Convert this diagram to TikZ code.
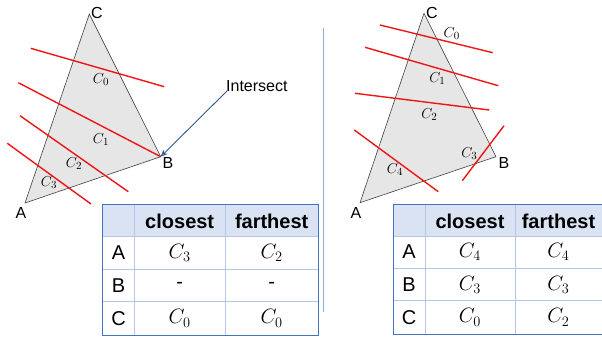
\documentclass[tikz,border=0pt]{standalone}
\usepackage{fontspec}
\setmainfont{Liberation Sans}
\usetikzlibrary{arrows.meta}
\definecolor{tri}{RGB}{230,230,230}
\definecolor{cut}{RGB}{240,20,20}
\definecolor{hdr}{RGB}{218,227,243}
\definecolor{outer}{RGB}{68,114,196}
\definecolor{inner}{RGB}{180,199,231}
\definecolor{arr}{RGB}{47,85,151}
\definecolor{divc}{RGB}{143,170,220}
\tikzset{
  trishape/.style={fill=tri,draw=black!75,line width=0.6pt},
  cutline/.style={draw=cut,line width=1.4pt},
  vlabel/.style={font=\fontsize{16}{18}\selectfont,inner sep=0pt},
  clabel/.style={font=\fontsize{15}{17}\selectfont,inner sep=0pt},
  cell/.style={font=\fontsize{20}{22}\selectfont,inner sep=0pt},
  hcell/.style={font=\fontsize{20}{22}\selectfont\bfseries,inner sep=0pt},
}
\begin{document}
\begin{tikzpicture}[x=1pt,y=-1pt]
\useasboundingbox (0,0) rectangle (602,339);
% ---------- left triangle ----------
\coordinate (lA) at (25,203);
\coordinate (lB) at (160.7,156.7);
\coordinate (lC) at (89.3,14);
\path[trishape] (lA) -- (lB) -- (lC) -- cycle;
\node[vlabel,anchor=west] (tlC) at (91,13) {C};
\node[vlabel] (tlB) at (168,163) {B};
\node[vlabel] (tlA) at (21,213) {A};
\coordinate (l0a) at (30.7,48.3);  \coordinate (l0b) at (164.3,86.7);
\coordinate (l1a) at (18.3,82.7);
\coordinate (l2a) at (20,115.7);   \coordinate (l2b) at (128.3,191.7);
\coordinate (l3a) at (7.3,143.3);  \coordinate (l3b) at (91,204);
\draw[cutline] (l0a) -- (l0b);
\draw[cutline] (l1a) -- (lB);
\draw[cutline] (l2a) -- (l2b);
\draw[cutline] (l3a) -- (l3b);
\node[clabel] (lc0) at (101,80) {$C_0$};
\node[clabel] (lc1) at (101,140) {$C_1$};
\node[clabel] (lc2) at (74,164) {$C_2$};
\node[clabel] (lc3) at (49,183) {$C_3$};
\node[vlabel,anchor=south west] (inter) at (226,92) {Intersect};
\draw[arr,line width=0.9pt,-{Stealth[length=7pt,width=6pt,open]}] (227.3,90.7) -- (lB);
% ---------- divider ----------
\coordinate (d1) at (323.3,28);
\coordinate (d2) at (323.3,311.7);
\draw[divc,line width=1pt] (d1) -- (d2);
% ---------- right triangle ----------
\coordinate (rA) at (360,202.7);
\coordinate (rB) at (496,156.7);
\coordinate (rC) at (424,13.3);
\path[trishape] (rA) -- (rB) -- (rC) -- cycle;
\node[vlabel,anchor=west] (trC) at (426,12.7) {C};
\node[vlabel] (trB) at (504,163) {B};
\node[vlabel] (trA) at (356,213) {A};
\coordinate (r0a) at (380,25);    \coordinate (r0b) at (492.7,52.7);
\coordinate (r1a) at (365,47.3);  \coordinate (r1b) at (498.3,85.7);
\coordinate (r2a) at (355,93.3);  \coordinate (r2b) at (489.3,110);
\coordinate (r4a) at (354.3,130); \coordinate (r4b) at (438.3,191.7);
\coordinate (r3a) at (504,125.7); \coordinate (r3b) at (462.3,180.7);
\draw[cutline] (r0a) -- (r0b);
\draw[cutline] (r1a) -- (r1b);
\draw[cutline] (r2a) -- (r2b);
\draw[cutline] (r4a) -- (r4b);
\draw[cutline] (r3a) -- (r3b);
\node[clabel] (rc0) at (451.7,33.3) {$C_0$};
\node[clabel] (rc1) at (437.3,78.3) {$C_1$};
\node[clabel] (rc2) at (429.3,115) {$C_2$};
\node[clabel] (rc3) at (469.3,153.3) {$C_3$};
\node[clabel] (rc4) at (395,170) {$C_4$};
% ---------- left table ----------
\fill[hdr] (102.7,205) rectangle (318.3,236.7);
\draw[inner,line width=0.8pt] (102.7,236.7) -- (318.3,236.7)
  (102.7,269.3) -- (318.3,269.3) (102.7,301.7) -- (318.3,301.7)
  (134.3,205) -- (134.3,335) (225,205) -- (225,335);
\draw[outer,line width=1pt] (102.7,205) rectangle (318.3,335);
\node[hcell] (lh1) at (179.7,221) {closest};
\node[hcell] (lh2) at (271.7,221) {farthest};
\node[cell] (lrA) at (118.5,253) {A};
\node[cell] (lrB) at (118.5,285.5) {B};
\node[cell] (lrC) at (118.5,318.4) {C};
\node[cell] (lA1) at (179.7,253) {$C_3$};
\node[cell] (lA2) at (271.7,253) {$C_2$};
\node[cell] (lB1) at (179.7,285.5) {-};
\node[cell] (lB2) at (271.7,285.5) {-};
\node[cell] (lC1) at (179.7,318.4) {$C_0$};
\node[cell] (lC2) at (271.7,318.4) {$C_0$};
% ---------- right table ----------
\fill[hdr] (393.3,205) rectangle (601.5,236);
\draw[inner,line width=0.8pt] (393.3,236) -- (601.5,236)
  (393.3,268.3) -- (601.5,268.3) (393.3,300.7) -- (601.5,300.7)
  (425,205) -- (425,334) (515,205) -- (515,334);
\draw[outer,line width=1pt] (393.3,205) -- (601.5,205) (393.3,205) -- (393.3,334) -- (601.5,334);
\node[hcell] (rh1) at (470,221) {closest};
\node[hcell] (rh2) at (558.5,221) {farthest};
\node[cell] (rrA) at (409,252) {A};
\node[cell] (rrB) at (409,284.5) {B};
\node[cell] (rrC) at (409,317.4) {C};
\node[cell] (rA1) at (470,252) {$C_4$};
\node[cell] (rA2) at (558.5,252) {$C_4$};
\node[cell] (rB1) at (470,284.5) {$C_3$};
\node[cell] (rB2) at (558.5,284.5) {$C_3$};
\node[cell] (rC1) at (470,317.4) {$C_0$};
\node[cell] (rC2) at (558.5,317.4) {$C_2$};
\end{tikzpicture}
\end{document}
